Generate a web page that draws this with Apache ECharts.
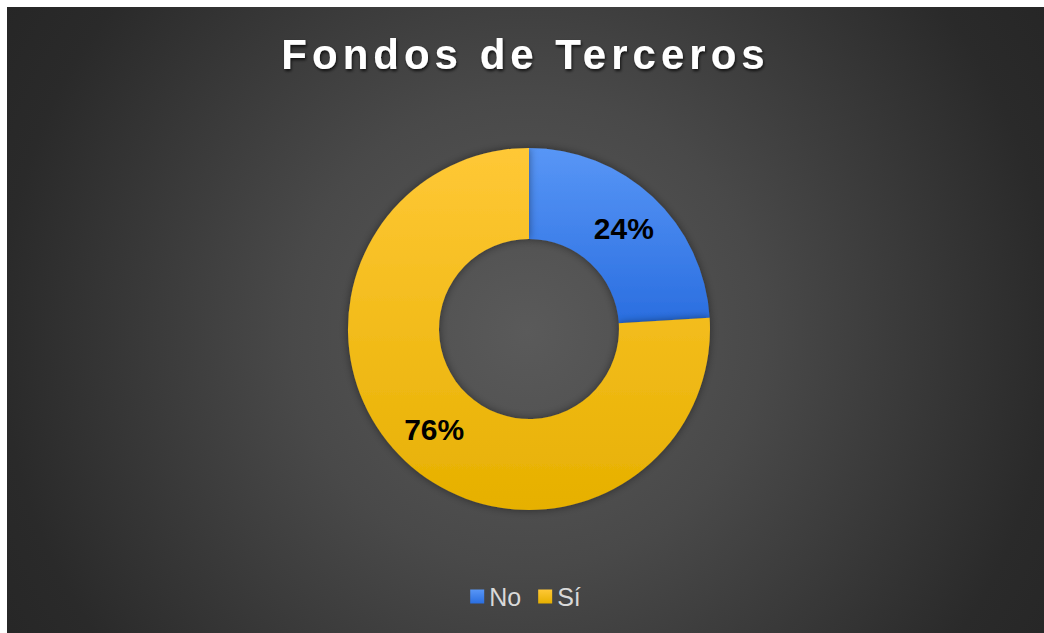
<!DOCTYPE html>
<html>
<head>
<meta charset="utf-8">
<script src="https://cdn.jsdelivr.net/npm/echarts@6/dist/echarts.min.js"></script>
<style>
    html, body { margin: 0; padding: 0; background: #ffffff; }
    #chart {
        position: absolute;
        left: 7px;
        top: 7px;
        width: 1037px;
        height: 626px;
    }
</style>
</head>
<body>
<div id="chart"></div>
<script>
// datos del gráfico
const titleText = "Fondos de Terceros";
const categories = ["No", "Sí"];
const values = [24, 76];
const sliceColors = [
    ["#5896f6", "#2a6ee0"],
    ["#ffc836", "#e6b000"]
];

const chart = echarts.init(document.getElementById("chart"), null, { renderer: "svg" });

let pieData = [];
for (let i = 0; i < categories.length; i++) {
    pieData.push({
        name: categories[i],
        value: values[i],
        itemStyle: {
            color: new echarts.graphic.LinearGradient(0, 0, 0, 1, [
                { offset: 0, color: sliceColors[i][0] },
                { offset: 1, color: sliceColors[i][1] }
            ])
        }
    });
}

chart.setOption({
    animation: false,
    backgroundColor: {
        type: "radial",
        x: 520,
        y: 325,
        r: 620,
        global: true,
        colorStops: [
            { offset: 0, color: "#5a5a5a" },
            { offset: 0.38, color: "#494949" },
            { offset: 0.85, color: "#2a2a2a" },
            { offset: 1, color: "#262626" }
        ]
    },
    title: {
        text: titleText,
        left: "center",
        top: 26,
        padding: 0,
        textStyle: {
            color: "#ffffff",
            fontFamily: "Liberation Sans, Arial, sans-serif",
            fontWeight: "bold",
            fontSize: 42,
            textShadowColor: "rgba(0, 0, 0, 0.75)",
            textShadowBlur: 3,
            textShadowOffsetX: 1,
            textShadowOffsetY: 2
        }
    },
    legend: {
        data: categories,
        top: 572,
        left: "center",
        itemWidth: 14,
        itemHeight: 14,
        itemGap: 17,
        icon: "rect",
        textStyle: {
            color: "#d9d9d9",
            fontFamily: "Liberation Sans, Arial, sans-serif",
            fontSize: 25,
            padding: [0, 0, 0, 0]
        }
    },
    series: [
        {
            type: "pie",
            center: [522, 322],
            radius: [90, 181],
            startAngle: 90,
            clockwise: true,
            avoidLabelOverlap: false,
            label: {
                show: true,
                position: "inside",
                formatter: "{c}%",
                color: "#000000",
                fontFamily: "Liberation Sans, Arial, sans-serif",
                fontWeight: "bold",
                fontSize: 30
            },
            labelLine: { show: false },
            itemStyle: {
                borderWidth: 0,
                shadowBlur: 8,
                shadowColor: "rgba(0, 0, 0, 0.45)"
            },
            emphasis: { disabled: true },
            data: pieData
        }
    ]
});

// espaciado de letras del título (como en el original)
document.querySelectorAll("#chart text").forEach((el) => {
    if (el.textContent === titleText) {
        el.style.letterSpacing = "5px";
    }
});
</script>
</body>
</html>
